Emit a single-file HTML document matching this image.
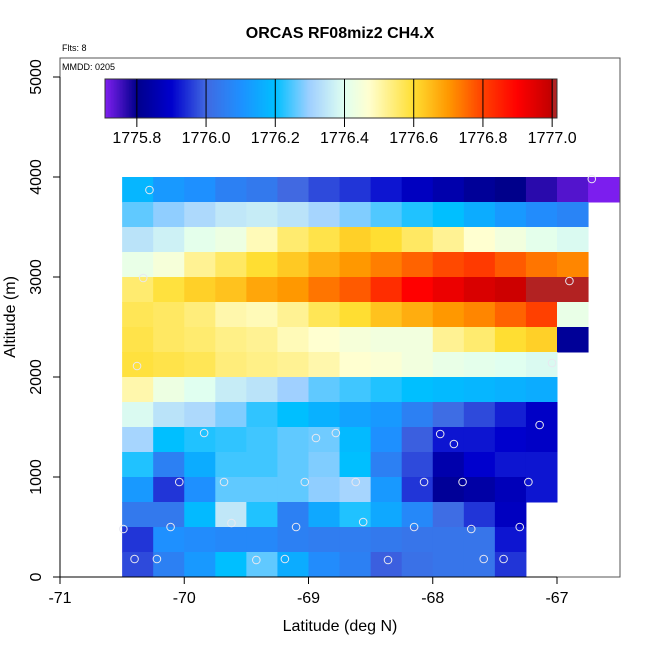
<!DOCTYPE html>
<html><head><meta charset="utf-8"><style>
html,body{margin:0;padding:0;background:#fff;}
svg{display:block;font-family:"Liberation Sans",Arial,sans-serif;}
</style></head><body>
<svg id="chart" width="650" height="650" viewBox="0 0 650 650" xmlns="http://www.w3.org/2000/svg">
<text x="340" y="38" text-anchor="middle" font-size="16" font-weight="bold">ORCAS RF08miz2 CH4.X</text>
<text x="62" y="51" font-size="9">Flts: 8</text>
<g id="cells"></g>
<g id="pts"></g>
<rect x="60" y="58" width="560" height="519" fill="none" stroke="#555" stroke-width="1"/>
<text x="62" y="70" font-size="9">MMDD: 0205</text>
<g id="cbar"></g>
<g id="xaxis"></g>
<g id="yaxis"></g>
<text x="340" y="631" text-anchor="middle" font-size="16">Latitude (deg N)</text>
<text x="0" y="0" transform="translate(15,317) rotate(-90)" text-anchor="middle" font-size="16">Altitude (m)</text>
</svg>
<script>
const latStart = -70.5, latStep = 0.25, altStep = 250;
// rows from top (3750-4000 m) to bottom (0-250 m); values ppb
const row0 = [1776.18,1776.12,1776.10,1776.06,1776.04,1776.00,1775.97,1775.95,1775.92,1775.88,1775.85,1775.82,1775.80,1775.77,1775.74,1775.71];
const row1 = [1776.26,1776.29,1776.32,1776.35,1776.36,1776.34,1776.31,1776.28,1776.25,1776.22,1776.20,1776.16,1776.12,1776.09,1776.07];
const row2 = [1776.34,1776.37,1776.41,1776.43,1776.49,1776.55,1776.58,1776.62,1776.60,1776.56,1776.52,1776.47,1776.44,1776.41,1776.39];
const row3 = [1776.42,1776.45,1776.52,1776.56,1776.60,1776.63,1776.67,1776.70,1776.73,1776.76,1776.79,1776.81,1776.77,1776.74,1776.72];
const row4 = [1776.55,1776.59,1776.62,1776.64,1776.68,1776.70,1776.74,1776.77,1776.83,1776.90,1776.93,1776.96,1776.98,1777.005,1777.01];
const row5 = [1776.57,1776.56,1776.54,1776.50,1776.49,1776.52,1776.57,1776.60,1776.64,1776.67,1776.70,1776.72,1776.76,1776.80,1776.42];
const row6 = [1776.58,1776.56,1776.55,1776.53,1776.52,1776.49,1776.47,1776.45,1776.44,1776.44,1776.52,1776.55,1776.60,1776.62,1775.82];
const row7 = [1776.59,1776.58,1776.57,1776.54,1776.53,1776.52,1776.50,1776.47,1776.46,1776.44,1776.42,1776.41,1776.40,1776.39];
const row8 = [1776.50,1776.43,1776.40,1776.36,1776.34,1776.30,1776.26,1776.24,1776.22,1776.20,1776.19,1776.18,1776.17,1776.16];
const row9 = [1776.39,1776.34,1776.32,1776.28,1776.23,1776.20,1776.17,1776.14,1776.12,1776.06,1776.01,1775.97,1775.93,1775.89];
const row10 = [1776.31,1776.20,1776.22,1776.23,1776.24,1776.26,1776.27,1776.19,1776.10,1775.99,1775.92,1775.92,1775.90,1775.89];
const row11 = [1776.22,1776.06,1776.16,1776.24,1776.24,1776.26,1776.28,1776.20,1776.06,1775.97,1775.85,1775.90,1775.92,1775.92];
const row12 = [1776.12,1775.95,1776.10,1776.26,1776.26,1776.26,1776.29,1776.31,1776.12,1775.95,1775.82,1775.84,1775.87,1775.92];
const row13 = [1776.04,1776.04,1776.19,1776.35,1776.22,1776.06,1776.15,1776.22,1776.15,1776.08,1776.01,1775.95,1775.88];
const row14 = [1775.95,1776.10,1776.09,1776.08,1776.08,1776.06,1776.05,1776.05,1776.04,1776.03,1776.03,1776.03,1775.92];
const row15 = [1775.97,1776.06,1776.12,1776.20,1776.26,1776.16,1776.09,1776.06,1775.99,1776.02,1776.03,1776.03,1775.95];
const rows = [row0,row1,row2,row3,row4,row5,row6,row7,row8,row9,row10,row11,row12,row13,row14,row15];
const ptLat = [-70.28,-66.72,-70.33,-66.90,-70.38,-67.04,-69.84,-68.94,-68.78,-67.94,-67.83,-67.14,-70.04,-69.68,-69.03,-68.62,-68.07,-67.76,-67.23,-69.62,-68.56,-70.49,-70.11,-69.10,-68.15,-67.69,-67.30,-70.40,-70.22,-69.42,-69.19,-68.36,-67.59,-67.43];
const ptAlt = [3870,3980,2990,2960,2110,2140,1440,1390,1440,1430,1330,1520,950,950,950,950,950,950,950,540,550,480,500,500,500,480,500,180,180,170,180,170,180,180];
const xTicks = [-71,-70,-69,-68,-67];
const yTicks = [0,1000,2000,3000,4000,5000];
const cbTicks = [1775.8,1776.0,1776.2,1776.4,1776.6,1776.8,1777.0];
const cbMin = 1775.708, cbMax = 1777.014;

const NS = "http://www.w3.org/2000/svg";
const xs = v => 60 + (v + 71) * 124.25;
const ys = v => 577 - v * 0.1;
const cbx = v => 105 + (v - cbMin) / (cbMax - cbMin) * 452;
const stops = [[1775.708,[127,31,240]],[1775.8,[0,0,139]],[1775.9,[0,0,205]],[1776.0,[65,105,225]],[1776.1,[30,144,255]],[1776.2,[0,191,255]],[1776.3,[160,208,255]],[1776.4,[224,255,240]],[1776.47,[255,255,208]],[1776.6,[255,222,50]],[1776.7,[255,152,0]],[1776.8,[255,64,0]],[1776.9,[255,0,0]],[1777.0,[192,0,0]],[1777.001,[178,34,34]],[1777.02,[178,34,34]]];
function col(v){
  if(v<=stops[0][0]) return 'rgb('+stops[0][1]+')';
  for(let i=1;i<stops.length;i++){
    if(v<=stops[i][0]){
      const a=stops[i-1],b=stops[i],t=(v-a[0])/(b[0]-a[0]);
      const c=a[1].map((x,k)=>Math.round(x+(b[1][k]-x)*t));
      return 'rgb('+c.join(',')+')';
    }
  }
  return 'rgb('+stops[stops.length-1][1]+')';
}
function mk(tag, attrs, parent){
  const e=document.createElementNS(NS,tag);
  for(const k in attrs) e.setAttribute(k,attrs[k]);
  parent.appendChild(e); return e;
}
const cells=document.getElementById('cells');
rows.forEach((r,ri)=>{
  const altTop = (rows.length-ri)*altStep;
  r.forEach((v,ci)=>{
    const lat=latStart+ci*latStep;
    const x0=xs(lat), x1=xs(lat+latStep);
    const e=mk('rect',{x:x0,y:ys(altTop),width:x1-x0+0.5,height:ys(altTop-altStep)-ys(altTop)+0.5,fill:col(v)},cells);
    
    
  });
});
const pts=document.getElementById('pts');
ptLat.forEach((la,i)=>{
  const e=mk('circle',{cx:xs(la),cy:ys(ptAlt[i]),r:3.8,fill:'none',stroke:'#e8e8f0','stroke-width':1},pts);
  
  
});
const cb=document.getElementById('cbar');
const N=300;
for(let i=0;i<N;i++){
  const v=cbMin+(cbMax-cbMin)*(i+0.5)/N;
  const w=452/N;
  const e=mk('rect',{x:105+i*w,y:79,width:w+0.4,height:39,fill:col(v)},cb);
  
  
}
mk('rect',{x:105,y:79,width:452,height:39,fill:'none',stroke:'#333','stroke-width':1},cb);
cbTicks.forEach(t=>{
  const x=cbx(t);
  mk('line',{x1:x,x2:x,y1:79,y2:127,stroke:'#000','stroke-width':1},cb);
  const e=mk('text',{x:x,y:143,'text-anchor':'middle','font-size':16},cb);
  e.textContent=t.toFixed(1);
  
  
});
const xa=document.getElementById('xaxis');
mk('line',{x1:xs(-71),x2:xs(-67),y1:577,y2:577,stroke:'#000'},xa);
xTicks.forEach(t=>{
  const x=xs(t);
  mk('line',{x1:x,x2:x,y1:577,y2:584,stroke:'#000'},xa);
  const e=mk('text',{x:x,y:603,'text-anchor':'middle','font-size':16},xa);
  e.textContent=String(t);
  
  
});
const ya=document.getElementById('yaxis');
mk('line',{x1:60,x2:60,y1:ys(0),y2:ys(5000),stroke:'#000'},ya);
yTicks.forEach(t=>{
  const y=ys(t);
  mk('line',{x1:53,x2:60,y1:y,y2:y,stroke:'#000'},ya);
  const e=mk('text',{x:0,y:0,'text-anchor':'middle','font-size':16,transform:'translate(41,'+y+') rotate(-90)'},ya);
  e.textContent=String(t);
  
  
});
</script>
</body></html>
